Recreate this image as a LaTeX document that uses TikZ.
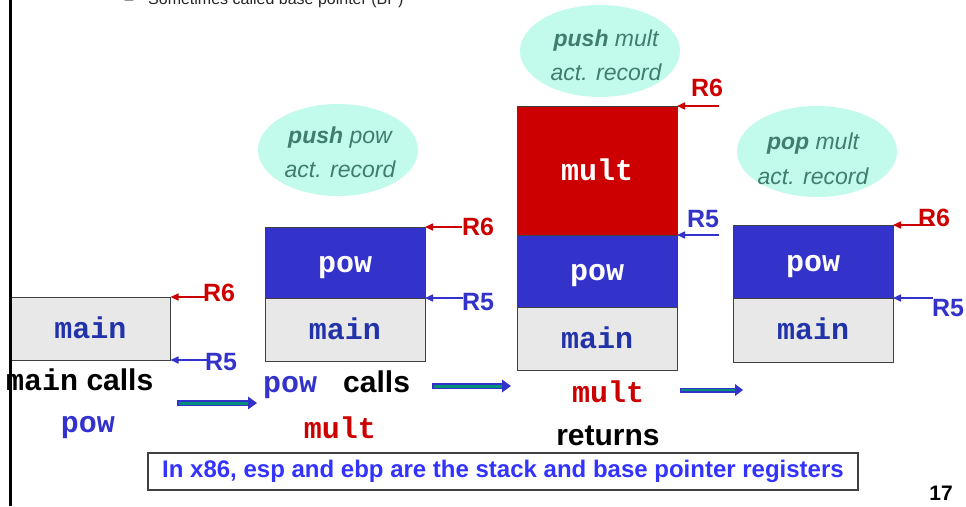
\documentclass[tikz,border=0pt]{standalone}
\usepackage{fontspec}
\setmainfont{Liberation Sans}
\newfontfamily\cour{Liberation Mono}
\usetikzlibrary{arrows.meta,shapes.geometric}
\definecolor{boxgray}{HTML}{E8E8E8}
\definecolor{edgegray}{HTML}{404040}
\definecolor{stkblue}{HTML}{3333CC}
\definecolor{stkred}{HTML}{CC0000}
\definecolor{txtblue}{HTML}{2233AA}
\definecolor{lblblue}{HTML}{3333CC}
\definecolor{bubfill}{HTML}{C2FBEC}
\definecolor{bubtext}{HTML}{3F7D6E}
\definecolor{notblue}{HTML}{3333FF}
\definecolor{arrgreen}{HTML}{00907A}
\newcommand\fsz[1]{\fontsize{#1}{#1}\selectfont}
\begin{document}
\begin{tikzpicture}[x=1pt,y=-1pt,
  frame/.style={draw=edgegray, line width=1pt, inner sep=0pt, outer sep=0pt,
    minimum width=160pt, text height=19pt, text depth=0pt, font=\cour\bfseries\fsz{30}},
  graybox/.style={frame, fill=boxgray, text=txtblue},
  bluebox/.style={frame, fill=stkblue, text=white},
  redbox/.style={frame, fill=stkred, text=white},
  rlab/.style={font=\bfseries\fsz{25}, anchor=base, inner sep=0pt},
  r6arr/.style={draw=stkred, line width=1.6pt, -{Triangle[length=8pt,width=7pt]}},
  r5arr/.style={draw=lblblue, line width=1.6pt, -{Triangle[length=8pt,width=7pt]}},
  lab/.style={font=\bfseries\fsz{30}, anchor=base, inner sep=0pt},
  monolab/.style={lab, font=\cour\bfseries\fsz{30}},
  bubble/.style={ellipse, fill=bubfill, inner sep=0pt, minimum width=160pt, minimum height=92pt},
  bubline/.style={font=\itshape\fsz{23}, text=bubtext, anchor=base, inner sep=0pt},
  blockarr/.style={draw=lblblue, line width=6pt,
    -{Triangle[length=9pt,width=13pt,line width=0pt]},
    postaction={draw=arrgreen, line width=3pt, -, shorten <=1.5pt, shorten >=9pt}},
  smallblockarr/.style={draw=lblblue, line width=5pt,
    -{Triangle[length=8pt,width=12pt,line width=0pt]},
    postaction={draw=arrgreen, line width=2.4pt, -, shorten <=1.3pt, shorten >=8pt}}
]
\useasboundingbox (0,0) rectangle (966,506);
\fill[white] (0,0) rectangle (966,506);

% cut-off top text
\node[font=\fsz{16}, text=black!85, anchor=base, inner sep=0pt] (dash) at (129,5) {–};
\node[font=\fsz{16}, text=black!85, anchor=base west, inner sep=0pt] (toptext) at (148,5) {Sometimes called base pointer (BP)};

% ---- stack 1
\node[graybox, minimum height=63pt] (s1main) at (90.5,328.5) {main};
\coordinate (s1r6a) at (207,297);
\coordinate (s1r5a) at (210,360);
\draw[r6arr] (s1r6a) -- (s1main.north east);
\draw[r5arr] (s1r5a) -- (s1main.south east);
\node[rlab, text=stkred] (s1r6) at (219,301) {R6};
\node[rlab, text=lblblue] (s1r5) at (221,370) {R5};
\node[lab, anchor=base west] (s1cap) at (6,390) {{\cour main} calls};
\node[monolab, text=lblblue] (s1callee) at (88,432) {pow};

% ---- stack 2
\node[bluebox, minimum height=71pt] (s2pow) at (345,262.5) {pow};
\node[graybox, minimum height=63pt, anchor=north] (s2main) at (s2pow.south) {main};
\coordinate (s2r6a) at (462,227);
\coordinate (s2r5a) at (463,298);
\draw[r6arr] (s2r6a) -- (s2pow.north east);
\draw[r5arr] (s2r5a) -- (s2pow.south east);
\node[rlab, text=stkred] (s2r6) at (478,235) {R6};
\node[rlab, text=lblblue] (s2r5) at (478,310) {R5};
\node[lab, anchor=base west] (s2cap) at (263,392) {{\cour\color{lblblue}pow}\hspace{26pt}calls};
\node[monolab, text=stkred] (s2callee) at (340,438) {mult};
\node[bubble] (e1) at (338,150) {};
\node[bubline] (e1a) at (340,143) {\textbf{push} pow};
\node[bubline] (e1b) at (340,177) {act. record};

% ---- stack 3
\node[redbox, minimum height=129pt] (s3mult) at (597,170.5) {mult};
\node[bluebox, minimum height=72pt, anchor=north] (s3pow) at (s3mult.south) {pow};
\node[graybox, minimum height=63pt, anchor=north] (s3main) at (s3pow.south) {main};
\coordinate (s3r6a) at (719,106);
\coordinate (s3r5a) at (719,235);
\draw[r6arr] (s3r6a) -- (s3mult.north east);
\draw[r5arr] (s3r5a) -- (s3mult.south east);
\node[rlab, text=stkred] (s3r6) at (707,96) {R6};
\node[rlab, text=lblblue] (s3r5) at (703,227) {R5};
\node[monolab, text=stkred] (s3cap) at (608,402) {mult};
\node[lab] (s3ret) at (608,445) {returns};
\node[bubble] (e3) at (600,51) {};
\node[bubline] (e3a) at (606,46) {\textbf{push} mult};
\node[bubline] (e3b) at (606,80) {act. record};

% ---- stack 4
\node[bluebox, minimum height=73pt] (s4pow) at (813,261.5) {pow};
\node[graybox, minimum height=64pt, anchor=north] (s4main) at (s4pow.south) {main};
\coordinate (s4r6a) at (933,225);
\coordinate (s4r5a) at (933,298);
\draw[r6arr] (s4r6a) -- (s4pow.north east);
\draw[r5arr] (s4r5a) -- (s4pow.south east);
\node[rlab, text=stkred] (s4r6) at (934,226) {R6};
\node[rlab, text=lblblue] (s4r5) at (948,316) {R5};
\node[bubble, minimum height=91pt] (e4) at (817,151.5) {};
\node[bubline] (e4a) at (813,149) {\textbf{pop} mult};
\node[bubline] (e4b) at (813,184) {act. record};

% ---- block arrows
\coordinate (b1s) at (177,403); \coordinate (b1e) at (257,403);
\coordinate (b2s) at (432,386); \coordinate (b2e) at (511,386);
\coordinate (b3s) at (680,390); \coordinate (b3e) at (743,390);
\draw[blockarr] (b1s) -- (b1e);
\draw[blockarr] (b2s) -- (b2e);
\draw[smallblockarr] (b3s) -- (b3e);

% ---- note and page number
\node[draw=edgegray, line width=1.2pt, minimum width=710pt, minimum height=37pt,
  inner sep=0pt, font=\bfseries\fsz{24}, text=notblue] (note) at (503,471.5)
  {In x86, esp and ebp are the stack and base pointer registers};
\node[font=\bfseries\fsz{21}, anchor=base, inner sep=0pt] (pagenum) at (941,500) {17};

% left frame line
\draw[line width=2.5pt] (10.5,0) -- (10.5,506);
\end{tikzpicture}
\end{document}
